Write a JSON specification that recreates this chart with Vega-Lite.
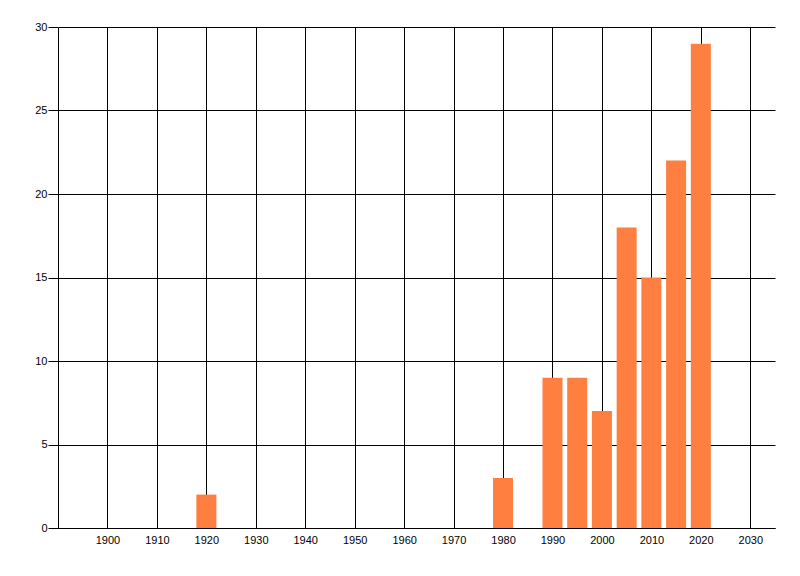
{
  "$schema": "https://vega.github.io/schema/vega-lite/v6.json",
  "width": 717,
  "height": 501,
  "autosize": {"type": "none"},
  "padding": {"left": 58, "top": 27, "right": 25, "bottom": 48},
  "background": "white",
  "config": {
    "view": {"stroke": null},
    "axis": {
      "labelFont": "Liberation Sans",
      "labelFontSize": 11,
      "labelColor": "#000000",
      "domainColor": "#000000",
      "tickColor": "#000000",
      "gridColor": "#000000",
      "gridOpacity": 1,
      "gridWidth": 1,
      "domainWidth": 1,
      "title": null
    }
  },
  "data": {
    "values": [
      {"year": 1920, "count": 2},
      {"year": 1980, "count": 3},
      {"year": 1990, "count": 9},
      {"year": 1995, "count": 9},
      {"year": 2000, "count": 7},
      {"year": 2005, "count": 18},
      {"year": 2010, "count": 15},
      {"year": 2015, "count": 22},
      {"year": 2020, "count": 29}
    ]
  },
  "layer": [
    {
      "mark": {"type": "bar", "color": "#FF7F40", "width": 20},
      "encoding": {
        "x": {
          "field": "year",
          "type": "quantitative",
          "scale": {"domain": [1890, 2035], "nice": false, "zero": false, "padding": 0},
          "axis": {
            "values": [1900, 1910, 1920, 1930, 1940, 1950, 1960, 1970, 1980, 1990, 2000, 2010, 2020, 2030],
            "format": "d",
            "grid": true,
            "ticks": false,
            "labelPadding": 6,
            "labelFlush": false,
            "zindex": 0
          }
        },
        "y": {
          "field": "count",
          "type": "quantitative",
          "scale": {"domain": [0, 30], "nice": false, "padding": 0},
          "axis": {
            "values": [0, 5, 10, 15, 20, 25, 30],
            "grid": true,
            "tickSize": 10,
            "labelPadding": 1,
            "zindex": 0
          }
        }
      }
    }
  ]
}
